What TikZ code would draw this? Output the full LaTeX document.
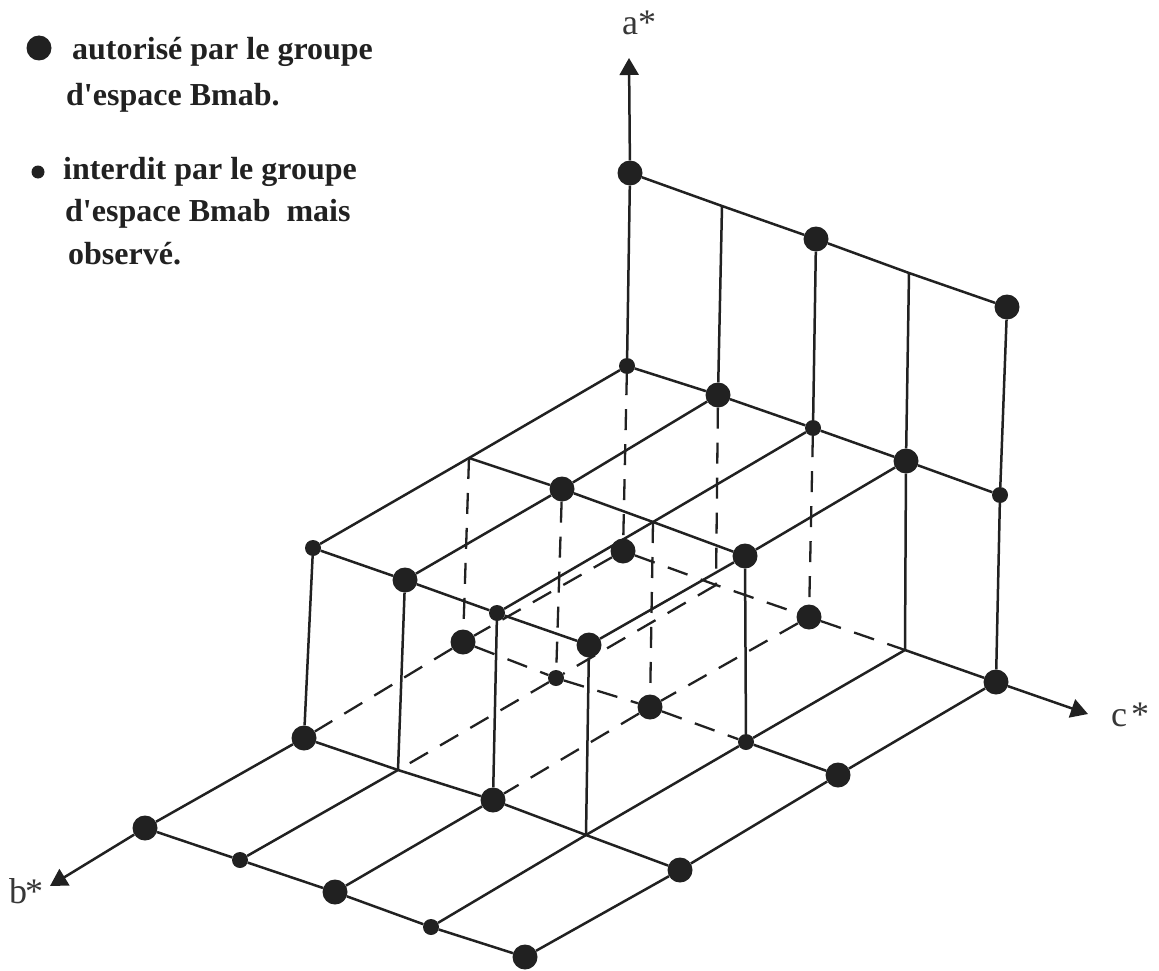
\documentclass[tikz,border=0pt]{standalone}
\usepackage{fontspec}
\setmainfont{Liberation Serif}
\newfontfamily\legendfont{Liberation Serif}
\usepackage{xcolor}
\usetikzlibrary{arrows.meta}
\definecolor{ink}{gray}{0.13}
\tikzset{
  bigdot/.style={circle, fill=ink, inner sep=0pt, minimum size=25pt},
  smalldot/.style={circle, fill=ink, inner sep=0pt, minimum size=16pt},
  legenddot/.style={circle, fill=ink, inner sep=0pt, minimum size=13pt},
  gridline/.style={draw=ink, line width=2.5pt},
  axisline/.style={gridline, -{Triangle[length=17pt,width=19pt]}},
  hiddenline/.style={draw=ink, line width=2.3pt, dash pattern=on 21pt off 14pt},
  legendtext/.style={anchor=base west, inner sep=0pt, text=ink, font=\fontsize{32}{32}\selectfont\legendfont\bfseries},
  axistext/.style={anchor=base west, inner sep=0pt, text=ink!90, font=\fontsize{36}{36}\selectfont}
}
\begin{document}
\begin{tikzpicture}[x=1pt,y=-1pt]
  \useasboundingbox (0,0) rectangle (1159,971);

  \node[bigdot] (t0) at (630,173) {};
  \coordinate (t1) at (722,206);
  \node[bigdot] (t2) at (816,239) {};
  \coordinate (t3) at (909,273);
  \node[bigdot] (t4) at (1007,307) {};

  \node[smalldot] (m00) at (627,366) {};
  \node[bigdot] (m01) at (718,395) {};
  \node[smalldot] (m02) at (813,428) {};
  \node[bigdot] (m03) at (906,461) {};
  \node[smalldot] (m04) at (1000,495) {};

  \coordinate (m10) at (469,458);
  \node[bigdot] (m11) at (562,489) {};
  \coordinate (m12) at (653,522);
  \node[bigdot] (m13) at (745,556) {};

  \node[smalldot] (m20) at (313,548) {};
  \node[bigdot] (m21) at (405,580) {};
  \node[smalldot] (m22) at (497,613) {};
  \node[bigdot] (m23) at (589,645) {};

  \node[bigdot] (g00) at (623,551) {};
  \coordinate (g01) at (716,585);
  \node[bigdot] (g02) at (809,617) {};
  \coordinate (g03) at (905,650);
  \node[bigdot] (g04) at (996,682) {};

  \node[bigdot] (g10) at (463,642) {};
  \node[smalldot] (g11) at (556,678) {};
  \node[bigdot] (g12) at (650,707) {};
  \node[smalldot] (g13) at (746,742) {};
  \node[bigdot] (g14) at (838,775) {};

  \node[bigdot] (g20) at (304,738) {};
  \coordinate (g21) at (398,770);
  \node[bigdot] (g22) at (493,800) {};
  \coordinate (g23) at (586,835);
  \node[bigdot] (g24) at (680,870) {};

  \node[bigdot] (g30) at (145,828) {};
  \node[smalldot] (g31) at (240,860) {};
  \node[bigdot] (g32) at (335,892) {};
  \node[smalldot] (g33) at (431,927) {};
  \node[bigdot] (g34) at (525,957) {};

  \coordinate (aend) at (629,58);
  \coordinate (cend) at (1088,714);
  \coordinate (bend) at (50,886);

  \draw[axisline] (t0) -- (aend);
  \draw[axisline] (g04) -- (cend);
  \draw[axisline] (g30) -- (bend);

  \draw[gridline] (t0) -- (t1) -- (t2) -- (t3) -- (t4);
  \draw[gridline] (m00) -- (m01) -- (m02) -- (m03) -- (m04);
  \draw[gridline] (m10) -- (m11) -- (m12) -- (m13);
  \draw[gridline] (m20) -- (m21) -- (m22) -- (m23);
  \draw[gridline] (g03) -- (g04);
  \draw[gridline] (g13) -- (g14);
  \draw[gridline] (g20) -- (g21) -- (g22) -- (g23) -- (g24);
  \draw[gridline] (g30) -- (g31) -- (g32) -- (g33) -- (g34);

  \draw[gridline] (t0) -- (m00);
  \draw[gridline] (t1) -- (m01);
  \draw[gridline] (t2) -- (m02);
  \draw[gridline] (t3) -- (m03) -- (g03);
  \draw[gridline] (t4) -- (m04) -- (g04);
  \draw[gridline] (m13) -- (g13);
  \draw[gridline] (m20) -- (g20);
  \draw[gridline] (m21) -- (g21);
  \draw[gridline] (m22) -- (g22);
  \draw[gridline] (m23) -- (g23);

  \draw[gridline] (m00) -- (m10) -- (m20);
  \draw[gridline] (m01) -- (m11) -- (m21);
  \draw[gridline] (m02) -- (m12) -- (m22);
  \draw[gridline] (m03) -- (m13) -- (m23);
  \draw[gridline] (g20) -- (g30);
  \draw[gridline] (g21) -- (g31);
  \draw[gridline] (g22) -- (g32);
  \draw[gridline] (g03) -- (g13) -- (g23) -- (g33);
  \draw[gridline] (g04) -- (g14) -- (g24) -- (g34);

  \draw[hiddenline] (m00) -- (g00);
  \draw[hiddenline] (m01) -- (g01);
  \draw[hiddenline] (m02) -- (g02);
  \draw[hiddenline] (m10) -- (g10);
  \draw[hiddenline] (m11) -- (g11);
  \draw[hiddenline] (m12) -- (g12);
  \draw[hiddenline] (g00) -- (g01) -- (g02) -- (g03);
  \draw[hiddenline] (g10) -- (g11) -- (g12) -- (g13);
  \draw[hiddenline] (g00) -- (g10) -- (g20);
  \draw[hiddenline] (g01) -- (g11) -- (g21);
  \draw[hiddenline] (g02) -- (g12) -- (g22);

  \node[axistext] (alabel) at (622,35) {a*};
  \node[axistext] (clabel) at (1111,726) {c\hspace{4pt}*};
  \node[axistext] (blabel) at (9,903) {b\hspace{-2pt}*};

  \node[bigdot] (lbig) at (39,48) {};
  \node[legenddot] (lsmall) at (38,172) {};
  \node[legendtext] (l1) at (72,60) {autorisé par le groupe};
  \node[legendtext] (l2) at (66,106) {d'espace Bmab.};
  \node[legendtext] (l3) at (63,179) {interdit par le groupe};
  \node[legendtext] (l4) at (65,221) {d'espace Bmab~ mais};
  \node[legendtext] (l5) at (68,264) {observé.};
\end{tikzpicture}
\end{document}
